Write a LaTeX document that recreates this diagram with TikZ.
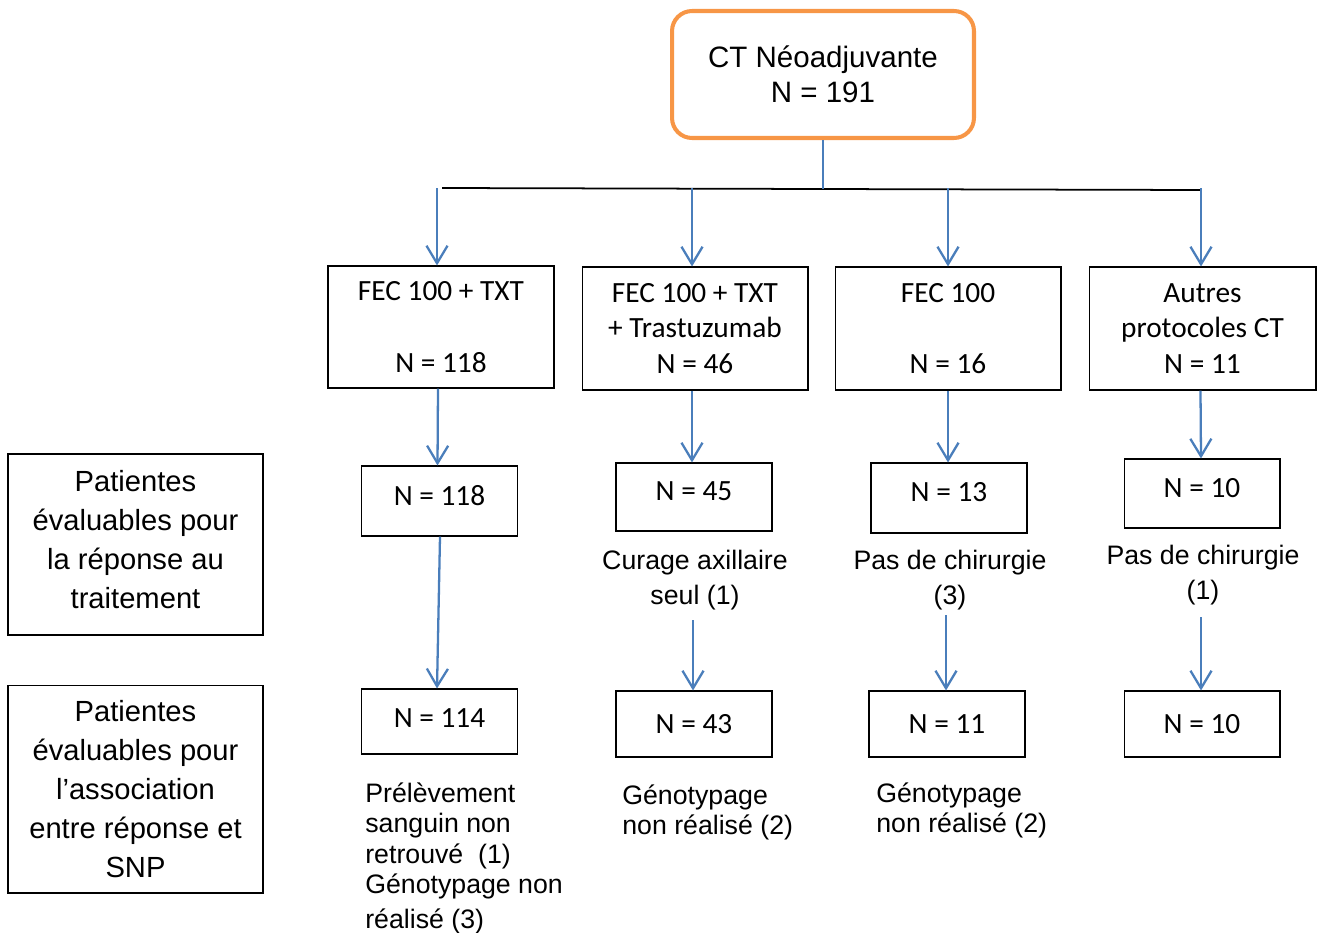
\documentclass[tikz,border=0pt]{standalone}
\usepackage{fontspec}
\setmainfont{Liberation Sans}
\newfontfamily\calib{Carlito}
\usepackage{xcolor}
\usepackage{tikz}
\usetikzlibrary{calc}
\usetikzlibrary{arrows.meta}
\definecolor{flowblue}{HTML}{4A7EBB}
\definecolor{flowrange}{HTML}{F79646}
\tikzset{pbox/.style={draw=black, line width=0.6pt, align=center, inner sep=0pt, font=\calib\fontsize{16.7}{20.4}\selectfont}}
\tikzset{nbox/.style={draw=black, line width=0.6pt, align=center, inner sep=0pt, minimum width=3.12cm, font=\calib\fontsize{16.7}{19}\selectfont}}
\tikzset{lbox/.style={draw=black, line width=0.6pt, align=center, inner sep=0pt, minimum width=5.1cm, font=\fontsize{16.6}{22.1}\selectfont}}
\tikzset{note/.style={inner sep=0pt, font=\fontsize{15.2}{19.8}\selectfont}}
\tikzset{fnote/.style={inner sep=0pt, align=left, anchor=north west, font=\fontsize{15.2}{17.4}\selectfont}}
\tikzset{arr/.style={flowblue, line width=1.3pt, -{Straight Barb[length=10pt,width=12pt]}}}

\begin{document}
\begin{tikzpicture}[x=0.02cm, y=-0.02cm]
\useasboundingbox (0,0) rectangle (1322,933);
\node[draw=flowrange, line width=2.3pt, rounded corners=0.4cm, minimum width=6.04cm, minimum height=2.54cm, align=center, font=\fontsize{16.8}{19.8}\selectfont] (top) at (823,74.5) {CT N\'eoadjuvante\\N = 191};
\node[pbox, minimum width=4.52cm, minimum height=2.44cm] (p1) at (441,327) {FEC 100 + TXT\\ \\N = 118};
\node[pbox, minimum width=4.52cm, minimum height=2.46cm] (p2) at (695,328.5) {FEC 100 + TXT\\+ Trastuzumab\\N = 46};
\node[pbox, minimum width=4.52cm, minimum height=2.46cm] (p3) at (948,328.5) {FEC 100\\ \\N = 16};
\node[pbox, minimum width=4.54cm, minimum height=2.46cm] (p4) at (1202.5,328.5) {Autres\\protocoles CT\\N = 11};
\node[nbox, minimum height=1.40cm] (n1) at (439.5,501) {N = 118\\[-12.2pt]};
\node[nbox, minimum height=1.36cm] (n2) at (694,497) {N = 45\\[-12.2pt]};
\node[nbox, minimum height=1.40cm] (n3) at (949,498) {N = 13\\[-12.2pt]};
\node[nbox, minimum height=1.38cm] (n4) at (1202,493.5) {N = 10\\[-12.2pt]};
\node[nbox, minimum height=1.30cm] (m1) at (439.5,721.5) {N = 114\\[-15.6pt]};
\node[nbox, minimum height=1.32cm] (m2) at (694,724) {N = 43};
\node[nbox, minimum height=1.32cm] (m3) at (947,724) {N = 11};
\node[nbox, minimum height=1.32cm] (m4) at (1202,724) {N = 10};
\node[lbox, minimum height=3.62cm] (l1) at (135.5,544.5) {Patientes\\\'evaluables pour\\la r\'eponse au\\traitement\\[-16.5pt]};
\node[lbox, minimum height=4.16cm] (l2) at (135.5,789) {Patientes\\\'evaluables pour\\l'association\\entre r\'eponse et\\SNP};
\node[note, align=center] (c2) at (695,580) {Curage axillaire\\seul (1)};
\node[note, align=center] (c3) at (950,580) {Pas de chirurgie\\(3)};
\node[note, align=center] (c4) at (1203,575) {Pas de chirurgie\\(1)};
\node[fnote] (d1) at (365,782) {Pr\'el\`evement\\sanguin non\\retrouv\'e~~(1)\\G\'enotypage non\\[2.3pt]r\'ealis\'e (3)};
\node[fnote] (d2) at (622,784) {G\'enotypage\\non r\'ealis\'e (2)};
\node[fnote] (d3) at (876,782) {G\'enotypage\\non r\'ealis\'e (2)};
\coordinate (h1) at (442,188);
\coordinate (h2) at (1200,190);
\coordinate (hm) at (823,189);
\draw[black, line width=1pt] (h1) -- (h2);
\draw[flowblue, line width=1.3pt] (top.south) -- (hm);
\foreach \i/\x in {1/437, 2/692, 3/948, 4/1201} {
 \coordinate (b\i) at (\x,188);
 \draw[arr] (b\i) -- (b\i |- p\i.north);
}
\draw[arr] ($(p1.south)+(-3,0)$) -- ($(n1.north)+(-2,0)$);
\draw[arr] ($(p2.south)+(-3,0)$) -- ($(n2.north)+(-2,0)$);
\draw[arr] (p3.south) -- ($(n3.north)+(-1,0)$);
\draw[arr] ($(p4.south)+(-2,0)$) -- ($(n4.north)+(-1,0)$);
\draw[arr] ($(n1.south)+(0.5,0)$) -- ($(m1.north)+(-2.5,0)$);
\draw[arr] ($(c2.south)+(-2,10)$) -- ($(m2.north)+(-1,0)$);
\draw[arr] ($(c3.south)+(-4,5)$) -- ($(m3.north)+(-1,0)$);
\draw[arr] ($(c4.south)+(-2,12)$) -- ($(m4.north)+(-1,0)$);
\end{tikzpicture}
\end{document}
